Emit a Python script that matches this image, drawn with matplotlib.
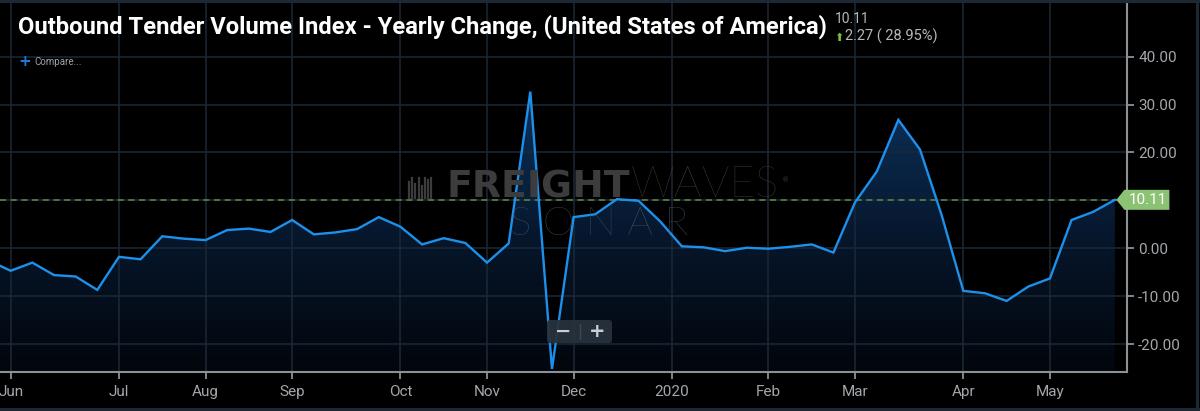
import numpy as np
import matplotlib
matplotlib.use('Agg')
import matplotlib.pyplot as plt
from matplotlib.patches import Polygon, FancyBboxPatch
from matplotlib.colors import LinearSegmentedColormap
from matplotlib.transforms import IdentityTransform

# ---------------- data ----------------
title = "Outbound Tender Volume Index - Yearly Change, (United States of America)"
values = [-2.6, -4.7, -3.0, -5.6, -5.9, -8.7, -1.8, -2.3, 2.5, 2.0, 1.7, 3.8, 4.1,
          3.4, 5.9, 2.9, 3.3, 4.0, 6.5, 4.5, 0.8, 2.1, 1.1, -3.0, 1.0, 32.7, -25.2,
          6.5, 7.1, 10.25, 9.9, 5.6, 0.4, 0.2, -0.6, 0.1, -0.1, 0.3, 0.8, -0.9, 9.6,
          16.0, 26.8, 20.6, 6.9, -8.9, -9.4, -11.0, -8.0, -6.3, 5.9, 7.6, 10.11]
month_labels = ['Jun', 'Jul', 'Aug', 'Sep', 'Oct', 'Nov', 'Dec', '2020', 'Feb', 'Mar', 'Apr', 'May']
month_pos = [1, 6, 10, 14, 19, 23, 27, 31.53, 36, 40, 45, 49]
y_ticks = [-20, -10, 0, 10, 20, 30, 40]
last_value = 10.11
change = 2.27
change_pct = 28.95

W, H = 1200, 411
fig = plt.figure(figsize=(W / 100, H / 100), dpi=100, facecolor='black')

def fx(px):
    return px / W

def fy(py):
    return 1 - py / H

ax = fig.add_axes([fx(0), fy(372.3), fx(1127), (372.3 - 3) / H])
ax.set_facecolor('black')
x = np.arange(len(values))
xmin, xmax = 0.506, 52.56
ymin, ymax = -25.9, 51.2
ax.set_xlim(xmin, xmax)
ax.set_ylim(ymin, ymax)

# gradient fill under the line
cmap = LinearSegmentedColormap.from_list('g', ['#02060c', '#061529', '#0b2b50', '#10396a'])
grad = np.linspace(0, 1, 256).reshape(-1, 1)
im = ax.imshow(grad, extent=[xmin, xmax, ymin, ymax], origin='lower', aspect='auto',
               cmap=cmap, zorder=1, interpolation='bilinear')
verts = [(x[0], ymin)] + list(zip(x, values)) + [(x[-1], ymin)]
clip = Polygon(verts, closed=True, facecolor='none', edgecolor='none', transform=ax.transData)
ax.add_patch(clip)
im.set_clip_path(clip)

# grid
for yt in y_ticks:
    ax.axhline(yt, color='#1b2936', lw=1.1, zorder=2)
for mp in month_pos:
    ax.axvline(mp, color='#1b2936', lw=1.1, zorder=2)

# watermark
fig.canvas.draw()
r = fig.canvas.get_renderer()
fr = fig.text(fx(447), fy(197), 'FREIGHT', fontsize=20, fontweight='bold', family='DejaVu Sans',
              color='#3c3c3c', va='baseline', ha='left', zorder=3)
bb = fr.get_window_extent(renderer=r)
fr.set_fontsize(20 * 183 / bb.width)
bb = fr.get_window_extent(renderer=r)
wv = fig.text(bb.x1 / W, fy(197), 'WAVES', fontsize=fr.get_fontsize(), fontweight='light',
              family='Lato', color='#3c3c3c', va='baseline', ha='left')
bb2 = wv.get_window_extent(renderer=r)
wv.set_fontsize(wv.get_fontsize() * 148 / bb2.width)
fig.text(fx(782), fy(180), '®', fontsize=5, color='#3c3c3c', va='center', ha='left')
fig.text(fx(599), fy(235), 'S O N A R', fontsize=29, fontweight='light', family='Lato',
         color='#4a545e', va='baseline', ha='center')
# logo bars
for i, h in enumerate([16, 20, 14, 20, 12, 20, 18, 20]):
    xx = 409 + i * 3.2
    fig.add_artist(plt.Line2D([fx(xx), fx(xx)], [fy(198), fy(198 - h)], color='#3c3c3c', lw=1.6))

# dashed last value line
ax.axhline(last_value, color='#5e8c48', lw=1.1, ls=(0, (4, 3)), zorder=4)

# series line
ax.plot(x, values, color='#1c90ea', lw=1.7, zorder=6, solid_joinstyle='miter')

# axes styling
for s in ['left', 'top']:
    ax.spines[s].set_visible(False)
for s in ['right', 'bottom']:
    ax.spines[s].set_color('#8d9196')
    ax.spines[s].set_linewidth(1.5)
    ax.spines[s].set_zorder(7)
ax.yaxis.tick_right()
ax.set_yticks(y_ticks)
# the 10.00 label is hidden behind the last-value flag in the reference
ax.set_yticklabels(['' if abs(v - last_value) < 1 else f'{v:.2f}' for v in y_ticks])
ax.set_xticks(month_pos)
ax.set_xticklabels(month_labels)
ax.tick_params(axis='both', colors='#8d9196', labelcolor='#a3a7ab', labelsize=11, length=5, width=1.3)
ax.tick_params(axis='x', pad=4)
ax.tick_params(axis='y', pad=3)
for lab in ax.get_xticklabels() + ax.get_yticklabels():
    lab.set_family('Roboto')

# title
t = fig.text(fx(18), fy(33.5), title, fontsize=18, fontweight='bold', family='Roboto',
             color='white', va='baseline', ha='left')
bbt = t.get_window_extent(renderer=r)
t.set_fontsize(18 * 810 / bbt.width)

fig.text(fx(835), fy(23), f'{last_value:.2f}', fontsize=10, family='Roboto', color='#b5b9bd',
         va='baseline', ha='left')
fig.text(fx(834), fy(41), '⬆', fontsize=8, family='DejaVu Sans', color='#7dc242',
         va='baseline', ha='left')
fig.text(fx(845), fy(41), f'{change:.2f} ( {change_pct:.2f}%)', fontsize=10.5, family='Roboto',
         color='#b5b9bd', va='baseline', ha='left')

fig.text(fx(18), fy(62), '+', fontsize=11, fontweight='bold', family='DejaVu Sans',
         color='#1f7ad6', va='center', ha='left')
fig.text(fx(34), fy(62), 'Compare...', fontsize=7, family='Roboto', color='#9ea3a8',
         va='center', ha='left')

# zoom control
fig.add_artist(FancyBboxPatch((547, H - 343), 65, 23, boxstyle='round,pad=0,rounding_size=3',
                              transform=IdentityTransform(), facecolor='#27323d',
                              edgecolor='none', alpha=0.95, zorder=8))
fig.add_artist(plt.Line2D([580, 580], [H - 339, H - 324], transform=IdentityTransform(),
                          color='#3c4853', lw=1, zorder=9))
fig.text(fx(563), fy(331.5), '−', fontsize=14, fontweight='bold', color='#c9ced3',
         va='center', ha='center', zorder=9)
fig.text(fx(597), fy(331.5), '+', fontsize=14, fontweight='bold', color='#c9ced3',
         va='center', ha='center', zorder=9)

# last value label
tx, ty = ax.transData.transform((x[-1], values[-1]))
tx += 1.5
lab = Polygon([(tx, ty), (tx + 8, ty + 10), (tx + 53, ty + 10), (tx + 53, ty - 10), (tx + 8, ty - 10)],
              closed=True, transform=IdentityTransform(), facecolor='#8bc274', edgecolor='none',
              zorder=10, joinstyle='round')
fig.add_artist(lab)
fig.text((tx + 31) / W, ty / H, f'{last_value:.2f}', fontsize=11, family='Roboto', color='white',
         va='center', ha='center', zorder=11)

# outer frame
fig.add_artist(plt.Line2D([0, 1], [fy(1.5), fy(1.5)], color='#1c2834', lw=2.2))
fig.add_artist(plt.Line2D([0, 1], [fy(408.5), fy(408.5)], color='#1c2834', lw=2.2))
fig.add_artist(plt.Line2D([fx(1197), fx(1197)], [0, 1], color='#1c2834', lw=2.2))

fig.savefig('out.png', dpi=100, facecolor='black')
